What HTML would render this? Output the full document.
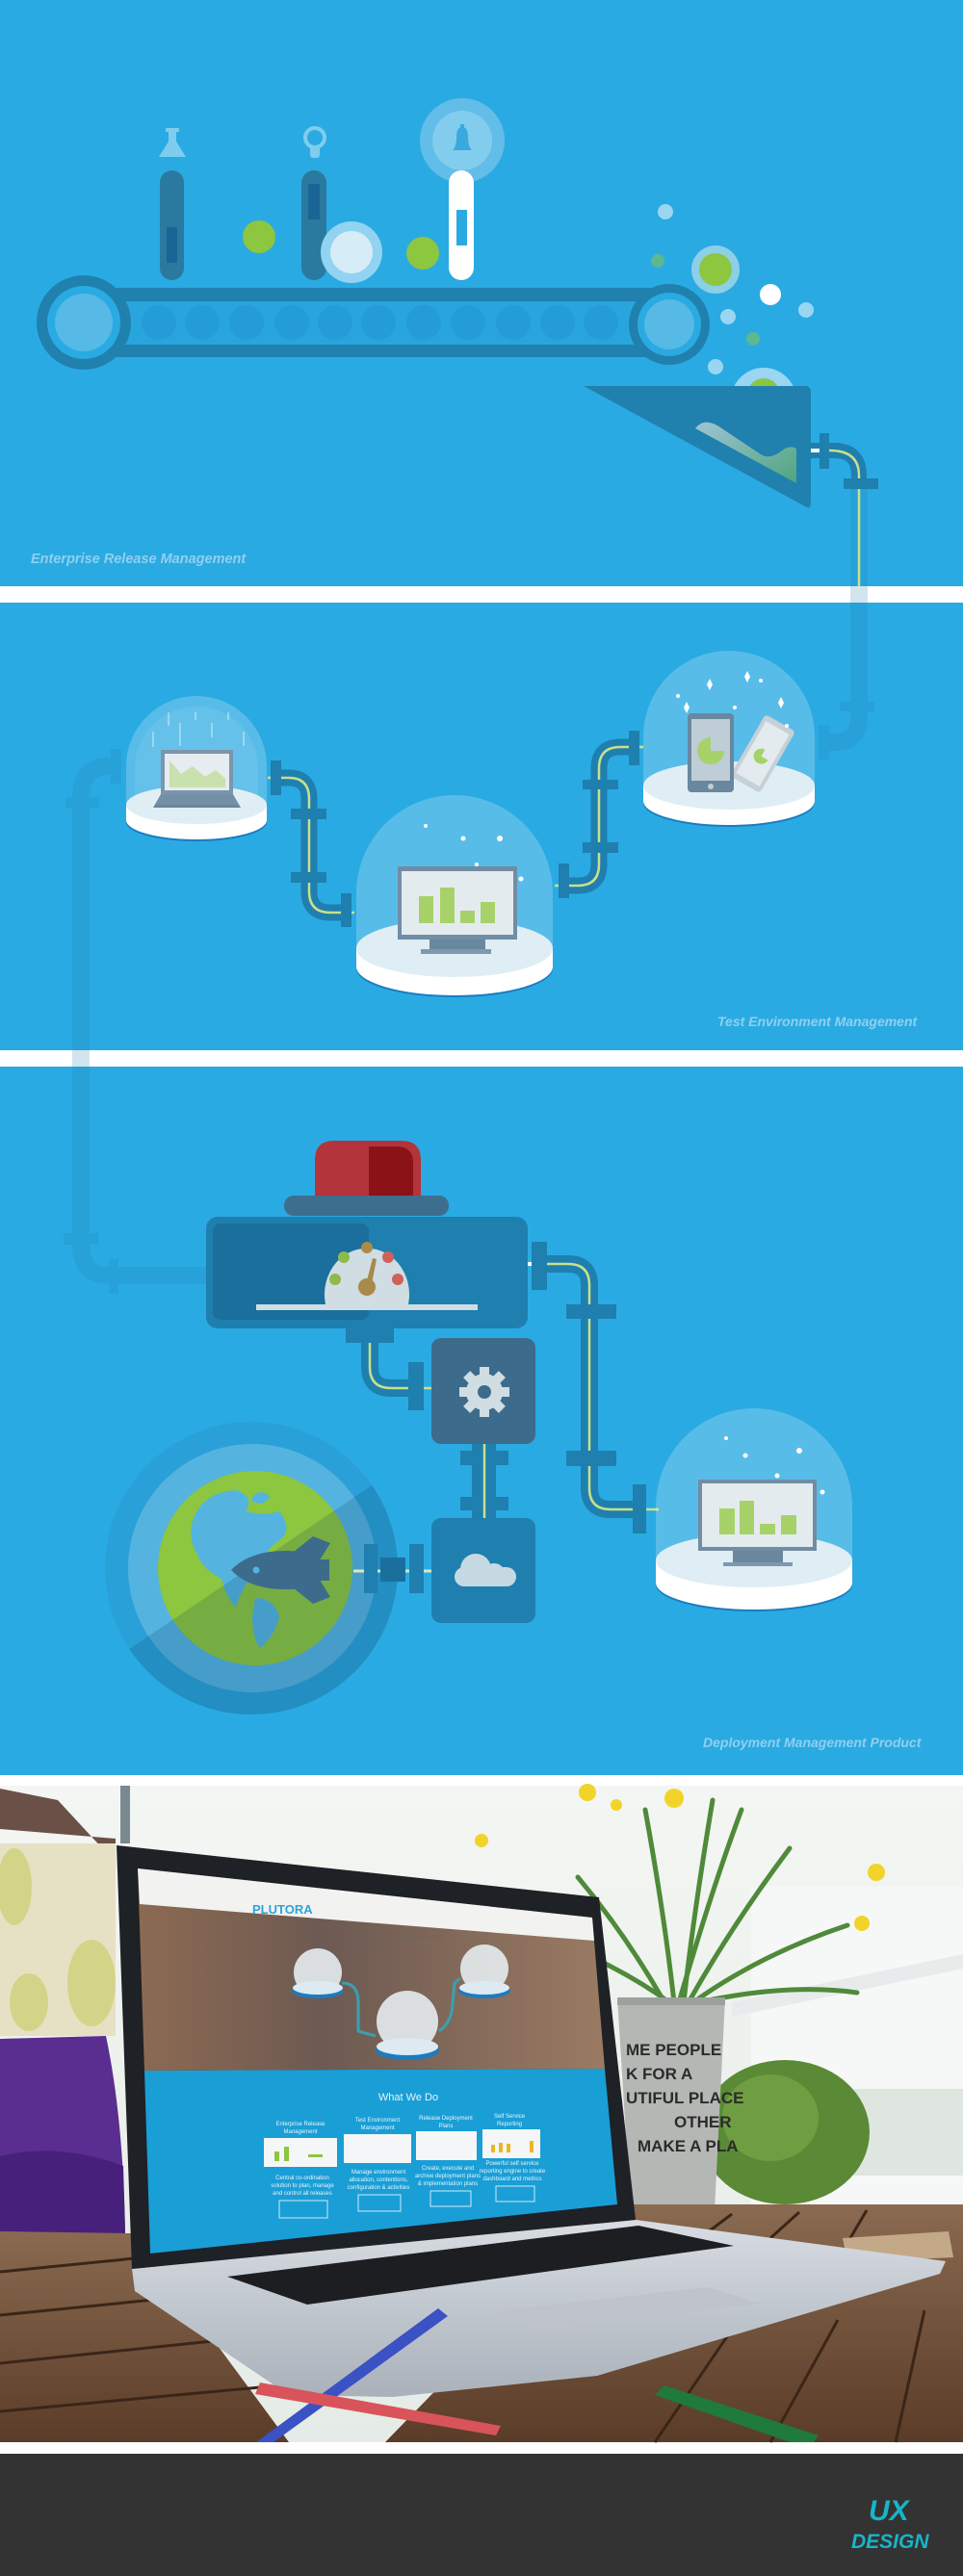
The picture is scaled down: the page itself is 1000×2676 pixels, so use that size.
<!DOCTYPE html>
<html><head><meta charset="utf-8"><style>
html,body{margin:0;padding:0;background:#fff}
svg{display:block}
.lbl{font-family:"Liberation Sans",sans-serif;font-style:italic;font-weight:bold;fill:#8fd0ef}
.sc{font-family:"Liberation Sans",sans-serif;fill:#e8f4fb}
</style></head><body>
<svg width="1000" height="2676" viewBox="0 0 1000 2676" xmlns="http://www.w3.org/2000/svg">
<defs>
<linearGradient id="hg" x1="0" y1="0" x2="1" y2="1"><stop offset="0" stop-color="#9ec4d6"/><stop offset="1" stop-color="#4fa57c"/></linearGradient>
<clipPath id="gc"><circle cx="261" cy="1629" r="152"/></clipPath>
<clipPath id="hc"><rect x="0" y="0" width="1000" height="401"/></clipPath>
<linearGradient id="sky" x1="0" y1="0" x2="0" y2="1"><stop offset="0" stop-color="#f3f6f2"/><stop offset="1" stop-color="#e5ebe6"/></linearGradient>
<linearGradient id="wood" x1="0" y1="0" x2="0" y2="1"><stop offset="0" stop-color="#8a6a50"/><stop offset="1" stop-color="#5a3c28"/></linearGradient>
<linearGradient id="blur" x1="0" y1="0" x2="1" y2="0"><stop offset="0" stop-color="#8c6a52"/><stop offset="0.4" stop-color="#6d5a52"/><stop offset="1" stop-color="#9a7a62"/></linearGradient>
<linearGradient id="silver" x1="0" y1="0" x2="0" y2="1"><stop offset="0" stop-color="#d8dde3"/><stop offset="1" stop-color="#aab1ba"/></linearGradient>
</defs>

<!-- backgrounds -->
<rect x="0" y="0" width="1000" height="2549" fill="#2aaae2"/>
<rect x="0" y="609" width="1000" height="17" fill="#fff"/>
<rect x="0" y="1091" width="1000" height="17" fill="#fff"/>
<rect x="0" y="1844" width="1000" height="11" fill="#fff"/>
<rect x="0" y="2537" width="1000" height="12" fill="#fff"/>
<rect x="0" y="2549" width="1000" height="127" fill="#333333"/>

<!-- ===== Section 1 ===== -->
<!-- icons -->
<g fill="#7fcdee">
<rect x="172" y="133" width="14" height="4" rx="1"/>
<path d="M175 137 h8 v10 l10 16 h-28 l10 -16z"/>
<circle cx="327" cy="143" r="10" fill="none" stroke="#7fcdee" stroke-width="4"/>
<rect x="322" y="152" width="10" height="12" rx="3"/>
</g>
<circle cx="480" cy="146" r="44" fill="#62bde8"/>
<circle cx="480" cy="146" r="31" fill="#82cdee"/>
<path d="M470 156 q4 -4 4 -14 q0 -10 6 -10 q6 0 6 10 q0 10 4 14z" fill="#3aa9de"/>
<rect x="478" y="129" width="4" height="4" fill="#3aa9de"/>
<!-- tubes -->
<rect x="166" y="177" width="25" height="114" rx="12.5" fill="#2a7aa0"/>
<rect x="173" y="236" width="11" height="37" fill="#1a6596"/>
<rect x="313" y="177" width="26" height="114" rx="13" fill="#2a7aa0"/>
<rect x="320" y="191" width="12" height="37" fill="#1a6596"/>
<circle cx="365" cy="262" r="32" fill="#92d3f1"/>
<circle cx="365" cy="262" r="22" fill="#d6edf8"/>
<rect x="466" y="177" width="26" height="114" rx="13" fill="#fff"/>
<rect x="474" y="218" width="11" height="37" fill="#2aaae2"/>
<circle cx="269" cy="246" r="17" fill="#8dc63f"/>
<circle cx="439" cy="263" r="17" fill="#8dc63f"/>
<!-- conveyor -->
<rect x="115" y="299" width="570" height="72" fill="#2080ae"/>
<rect x="125" y="313" width="545" height="45" fill="#29a5dd"/>
<g fill="#249cd5">
<circle cx="165" cy="335" r="18"/><circle cx="210" cy="335" r="18"/><circle cx="256" cy="335" r="18"/><circle cx="303" cy="335" r="18"/><circle cx="348" cy="335" r="18"/><circle cx="393" cy="335" r="18"/><circle cx="440" cy="335" r="18"/><circle cx="486" cy="335" r="18"/><circle cx="533" cy="335" r="18"/><circle cx="579" cy="335" r="18"/><circle cx="624" cy="335" r="18"/>
</g>
<circle cx="87" cy="335" r="49" fill="#2080ae"/>
<circle cx="87" cy="335" r="38" fill="#2aaae2"/>
<circle cx="87" cy="335" r="30" fill="#56b9e6"/>
<circle cx="695" cy="337" r="42" fill="#2080ae"/>
<circle cx="695" cy="337" r="33" fill="#2aaae2"/>
<circle cx="695" cy="337" r="26" fill="#56b9e6"/>
<!-- bubbles -->
<circle cx="691" cy="220" r="8" fill="#9ad6f2"/>
<circle cx="683" cy="271" r="7" fill="#5cb890"/>
<circle cx="743" cy="280" r="25" fill="#8ccfe6"/>
<circle cx="743" cy="280" r="17" fill="#8dc63f"/>
<circle cx="800" cy="306" r="11" fill="#fff"/>
<circle cx="837" cy="322" r="8" fill="#9ad6f2"/>
<circle cx="756" cy="329" r="8" fill="#9ad6f2"/>
<circle cx="782" cy="352" r="7" fill="#5cb890"/>
<circle cx="743" cy="381" r="8" fill="#9ad6f2"/>
<g clip-path="url(#hc)"><circle cx="793" cy="416" r="34" fill="#9ad6f2"/><circle cx="793" cy="410" r="17" fill="#8dc63f"/></g>
<!-- hopper -->
<path d="M606 401 L836 401 Q842 401 842 407 L842 522 Q842 530 836 526 Z" fill="#2080ae"/>
<path d="M722 445 Q730 434 745 442 L790 472 Q800 478 812 468 Q820 462 827 466 L827 502 Z" fill="url(#hg)"/>
<!-- exit pipe section1 -->
<path d="M892 508 L892 729" stroke="#1f7fae" stroke-opacity="0.2" stroke-width="18" fill="none"/>
<path d="M842 468 L866 468 Q892 468 892 494 L892 500" stroke="#1f7fae" stroke-width="16" fill="none"/>
<path d="M842 468 L862 468 Q892 468 892 494 L892 609" stroke="#c8e08a" stroke-width="2.5" fill="none"/>
<rect x="842" y="466" width="10" height="4" fill="#fff"/>
<rect x="851" y="450" width="10" height="37" fill="#1f7fae"/>
<rect x="876" y="497" width="36" height="11" fill="#1f7fae"/>
<text x="32" y="585" class="lbl" font-size="14.5">Enterprise Release Management</text>

<!-- ===== Section 2 ===== -->
<!-- faint pipes -->
<g stroke="#1f7fae" stroke-opacity="0.2" fill="none" stroke-width="18">
<path d="M892 739 L892 745 Q892 771 866 771 L861 771"/>
<path d="M115 796 Q84 796 84 828"/>
<path d="M84 839 L84 1281"/>
<path d="M84 1293 Q84 1325 113 1325"/>
<path d="M123 1325 L214 1325"/>
</g>
<g fill="#1f7fae" fill-opacity="0.2">
<rect x="872" y="729" width="36" height="10"/>
<rect x="850" y="753" width="11" height="36"/>
<rect x="115" y="778" width="11" height="36"/>
<rect x="68" y="828" width="35" height="11"/>
<rect x="66" y="1281" width="36" height="12"/>
<rect x="113" y="1308" width="10" height="36"/>
</g>
<!-- pipe A -->
<path d="M292 808 L300 808 Q321 808 321 830 L321 926 Q321 948 343 948 L354 948" stroke="#1f7fae" stroke-width="17" fill="none"/>
<path d="M278 808 L300 808 Q321 808 321 830 L321 926 Q321 948 343 948 L368 948" stroke="#c8e08a" stroke-width="2.5" fill="none"/>
<g fill="#1f7fae"><rect x="281" y="790" width="11" height="36"/><rect x="302" y="840" width="37" height="11"/><rect x="302" y="906" width="37" height="11"/><rect x="354" y="928" width="11" height="35"/></g>
<!-- pipe B -->
<path d="M591 920 L600 920 Q622 920 622 898 L622 798 Q622 776 644 776 L653 776" stroke="#1f7fae" stroke-width="17" fill="none"/>
<path d="M576 920 L600 920 Q622 920 622 898 L622 798 Q622 776 644 776 L668 776" stroke="#c8e08a" stroke-width="2.5" fill="none"/>
<g fill="#1f7fae"><rect x="580" y="897" width="11" height="36"/><rect x="605" y="810" width="37" height="10"/><rect x="605" y="875" width="37" height="11"/><rect x="653" y="759" width="11" height="36"/></g>

<!-- dome 1 -->
<ellipse cx="204" cy="854" rx="73" ry="20" fill="#1a7cc0"/>
<ellipse cx="204" cy="852" rx="73" ry="20" fill="#fff"/>
<rect x="131" y="836" width="146" height="16" fill="#fff"/>
<ellipse cx="204" cy="836" rx="73" ry="20" fill="#d6e9f3"/>
<rect x="167" y="779" width="75" height="46" fill="#4a6d8c"/>
<rect x="171" y="783" width="67" height="38" fill="#dde6ea"/>
<path d="M176 790 L188 804 L200 796 L213 807 L224 800 L234 809 L234 818 L176 818Z" fill="#b5d68c"/>
<path d="M167 825 L242 825 L250 839 L159 839Z" fill="#3f6685"/>
<path d="M131 840 L131 796 A73 73 0 0 1 277 796 L277 840 A73 20 0 0 1 131 840Z" fill="#fff" fill-opacity="0.22"/>
<path d="M140 836 L140 798 A64 64 0 0 1 268 798 L268 836" fill="#fff" fill-opacity="0.08"/>
<g stroke="#fff" stroke-opacity="0.7" stroke-width="1"><line x1="175" y1="740" x2="175" y2="754"/><line x1="187" y1="751" x2="187" y2="775"/><line x1="203" y1="740" x2="203" y2="748"/><line x1="220" y1="751" x2="220" y2="766"/><line x1="237" y1="740" x2="237" y2="748"/><line x1="253" y1="760" x2="253" y2="775"/><line x1="159" y1="760" x2="159" y2="776"/></g>

<!-- dome 2 -->
<ellipse cx="472" cy="1006" rx="102" ry="30" fill="#1a7cc0"/>
<ellipse cx="472" cy="1004" rx="102" ry="30" fill="#fff"/>
<rect x="370" y="985" width="204" height="19" fill="#fff"/>
<ellipse cx="472" cy="985" rx="102" ry="30" fill="#d6e9f3"/>
<rect x="413" y="900" width="124" height="76" fill="#4a6d8c"/>
<rect x="417" y="905" width="116" height="66" fill="#dde6ea"/>
<g fill="#8dc63f"><rect x="435" y="931" width="15" height="28"/><rect x="457" y="922" width="15" height="37"/><rect x="478" y="946" width="15" height="13"/><rect x="499" y="937" width="15" height="22"/></g>
<rect x="446" y="976" width="58" height="10" fill="#3f6685"/>
<rect x="437" y="986" width="73" height="5" fill="#5a7d99"/>
<path d="M370 990 L370 928 A102 102 0 0 1 574 928 L574 990 A102 30 0 0 1 370 990Z" fill="#fff" fill-opacity="0.22"/>
<g fill="#fff"><circle cx="442" cy="858" r="2"/><circle cx="481" cy="871" r="2.5"/><circle cx="519" cy="871" r="3"/><circle cx="541" cy="913" r="2.5"/><circle cx="495" cy="898" r="2"/></g>

<!-- dome 3 -->
<ellipse cx="757" cy="834" rx="89" ry="25" fill="#1a7cc0"/>
<ellipse cx="757" cy="832" rx="89" ry="25" fill="#fff"/>
<rect x="668" y="816" width="178" height="16" fill="#fff"/>
<ellipse cx="757" cy="816" rx="89" ry="25" fill="#d6e9f3"/>
<g transform="rotate(30 792 783)"><rect x="774" y="746" width="36" height="74" rx="4" fill="#b7c4cc"/><rect x="778" y="752" width="28" height="62" fill="#dde6ea"/><path d="M792 778 a8 8 0 1 0 8 8 l-8 0z" fill="#8dc63f"/></g>
<rect x="714" y="741" width="48" height="82" rx="4" fill="#3f6685"/>
<rect x="718" y="747" width="40" height="64" fill="#aebfcb"/>
<circle cx="738" cy="817" r="3" fill="#aebfcb"/>
<path d="M738 766 a14 14 0 1 0 14 14 l-14 0z" fill="#8dc63f"/>
<path d="M668 820 L668 765 A89 89 0 0 1 846 765 L846 820 A89 25 0 0 1 668 820Z" fill="#fff" fill-opacity="0.22"/>
<g fill="#fff"><path d="M737 705 l3 6 -3 6 -3 -6z"/><path d="M776 697 l3 6 -3 6 -3 -6z"/><path d="M811 724 l3 6 -3 6 -3 -6z"/><path d="M713 729 l3 6 -3 6 -3 -6z"/><circle cx="790" cy="707" r="2"/><circle cx="763" cy="735" r="2"/><circle cx="704" cy="723" r="2"/><circle cx="817" cy="754" r="2"/></g>
<text x="745" y="1066" class="lbl" font-size="14">Test Environment Management</text>

<!-- ===== Section 3 ===== -->
<!-- siren -->
<path d="M327 1242 L327 1205 Q327 1185 347 1185 L417 1185 Q437 1185 437 1205 L437 1242Z" fill="#b3343a"/>
<path d="M383 1242 L383 1191 L412 1191 Q429 1191 429 1208 L429 1242Z" fill="#8b1216"/>
<rect x="295" y="1242" width="171" height="21" rx="10" fill="#3d6e8e"/>
<!-- machine -->
<rect x="214" y="1264" width="334" height="116" rx="12" fill="#1f7fae"/>
<rect x="221" y="1271" width="162" height="100" rx="8" fill="#1a6f9d"/>
<path d="M339 1359 A44 48 0 1 1 423 1359Z" fill="#d0dde3"/>
<g><circle cx="348" cy="1329" r="6" fill="#8dba4a"/><circle cx="357" cy="1306" r="6" fill="#8dba4a"/><circle cx="381" cy="1296" r="6" fill="#b08a4a"/><circle cx="403" cy="1306" r="6" fill="#d0605a"/><circle cx="413" cy="1329" r="6" fill="#d0605a"/></g>
<path d="M379 1338 L387 1307 L391 1308 L385 1339Z" fill="#a88b4a"/>
<circle cx="381" cy="1337" r="9" fill="#a88b4a"/>
<rect x="266" y="1355" width="230" height="6" fill="#d0dde3"/>
<rect x="359" y="1380" width="50" height="15" fill="#1f7fae"/>
<!-- pipe D -->
<path d="M384 1395 L384 1420 Q384 1442 406 1442 L424 1442" stroke="#1f7fae" stroke-width="18" fill="none"/>
<path d="M384 1395 L384 1420 Q384 1442 406 1442 L448 1442" stroke="#c8e08a" stroke-width="2.5" fill="none"/>
<rect x="424" y="1415" width="16" height="50" fill="#1f7fae"/>
<!-- pipe C -->
<path d="M568 1313 L590 1313 Q612 1313 612 1335 L612 1546 Q612 1568 634 1568 L657 1568" stroke="#1f7fae" stroke-width="18" fill="none"/>
<path d="M548 1313 L590 1313 Q612 1313 612 1335 L612 1546 Q612 1568 634 1568 L684 1568" stroke="#c8e08a" stroke-width="2.5" fill="none"/>
<rect x="548" y="1311" width="6" height="4" fill="#fff"/>
<g fill="#1f7fae"><rect x="552" y="1290" width="16" height="50"/><rect x="588" y="1355" width="52" height="15"/><rect x="588" y="1507" width="52" height="16"/><rect x="657" y="1542" width="14" height="51"/></g>
<!-- gear box -->
<rect x="448" y="1390" width="108" height="110" rx="10" fill="#3d6b8c"/>
<g transform="translate(503 1446)" fill="#d0dde3">
<circle r="19"/>
<rect x="-5" y="-26" width="10" height="52"/><rect x="-5" y="-26" width="10" height="52" transform="rotate(45)"/><rect x="-5" y="-26" width="10" height="52" transform="rotate(90)"/><rect x="-5" y="-26" width="10" height="52" transform="rotate(135)"/>
<circle r="7" fill="#3d6b8c"/>
</g>
<!-- gear-cloud connector -->
<rect x="490" y="1500" width="25" height="77" fill="#1f7fae"/>
<rect x="478" y="1507" width="50" height="15" fill="#1f7fae"/>
<rect x="478" y="1555" width="50" height="14" fill="#1f7fae"/>
<line x1="503" y1="1500" x2="503" y2="1577" stroke="#c8e08a" stroke-width="2.5"/>
<!-- cloud box -->
<rect x="448" y="1577" width="108" height="109" rx="10" fill="#1f7fae"/>
<g fill="#c5d9e3"><circle cx="494" cy="1630" r="16"/><circle cx="513" cy="1636" r="12"/><rect x="472" y="1628" width="64" height="20" rx="10"/></g>
<!-- globe -->
<circle cx="261" cy="1629" r="152" fill="#2aa0d8"/>
<circle cx="262" cy="1629" r="129" fill="#55b3e0"/>
<circle cx="265" cy="1629" r="101" fill="#8dc63f"/>
<g fill="#55b3e0">
<path d="M200 1580 Q210 1550 245 1548 Q265 1555 255 1570 Q275 1575 290 1570 Q305 1590 290 1600 Q275 1610 268 1630 Q250 1650 245 1670 Q235 1660 230 1640 Q210 1630 205 1615 Q195 1600 200 1580Z"/>
<path d="M265 1660 Q285 1660 290 1680 Q285 1700 270 1712 Q262 1700 262 1680Z"/>
<path d="M262 1555 Q272 1545 280 1555 Q275 1565 262 1560Z"/>
</g>
<path d="M0 1800 L130 1716 L389 1541 L500 1541 L500 1800Z" fill="#00365a" fill-opacity="0.17" clip-path="url(#gc)"/>
<!-- rocket -->
<g fill="#3d6b8c">
<path d="M240 1631 Q260 1610 300 1611 L330 1613 L330 1650 L300 1651 Q260 1652 240 1631Z"/>
<path d="M305 1612 L325 1596 L343 1603 L330 1624Z"/>
<path d="M305 1650 L325 1666 L343 1659 L330 1638Z"/>
<rect x="326" y="1620" width="16" height="22"/>
</g>
<circle cx="266" cy="1631" r="3.5" fill="#55b3e0"/>
<!-- cloud-globe connector -->
<line x1="367" y1="1632" x2="448" y2="1632" stroke="#d6e9c0" stroke-width="3"/>
<rect x="378" y="1604" width="14" height="51" fill="#1f7fae"/>
<rect x="425" y="1604" width="15" height="51" fill="#1f7fae"/>
<rect x="395" y="1618" width="26" height="25" fill="#1a6f9d"/>
<!-- dome 4 -->
<ellipse cx="783" cy="1646" rx="102" ry="28" fill="#1a7cc0"/>
<ellipse cx="783" cy="1644" rx="102" ry="28" fill="#fff"/>
<rect x="681" y="1621" width="204" height="23" fill="#fff"/>
<ellipse cx="783" cy="1621" rx="102" ry="28" fill="#d6e9f3"/>
<rect x="725" y="1537" width="123" height="74" fill="#4a6d8c"/>
<rect x="729" y="1541" width="115" height="66" fill="#dde6ea"/>
<g fill="#8dc63f"><rect x="747" y="1567" width="16" height="27"/><rect x="768" y="1559" width="15" height="35"/><rect x="789" y="1583" width="16" height="11"/><rect x="811" y="1574" width="16" height="20"/></g>
<rect x="761" y="1611" width="52" height="12" fill="#3f6685"/>
<rect x="751" y="1623" width="72" height="4" fill="#5a7d99"/>
<path d="M681 1625 L681 1565 A102 102 0 0 1 885 1565 L885 1625 A102 28 0 0 1 681 1625Z" fill="#fff" fill-opacity="0.22"/>
<g fill="#fff"><circle cx="754" cy="1494" r="2"/><circle cx="774" cy="1512" r="2.5"/><circle cx="830" cy="1507" r="3"/><circle cx="807" cy="1533" r="2.5"/><circle cx="854" cy="1550" r="2.5"/></g>
<text x="730" y="1815" class="lbl" font-size="14">Deployment Management Product</text>

<!-- ===== Photo ===== -->
<rect x="0" y="1855" width="1000" height="682" fill="url(#sky)"/>
<path d="M0 1858 L60 1870 L120 1935 L120 1910 L0 1900Z" fill="#6b5048"/>
<rect x="0" y="1915" width="120" height="200" fill="#e6e1c4"/>
<g fill="#cfd27a" opacity="0.8"><ellipse cx="15" cy="1960" rx="18" ry="40"/><ellipse cx="95" cy="2060" rx="25" ry="45"/><ellipse cx="30" cy="2080" rx="20" ry="30"/></g>
<rect x="125" y="1855" width="10" height="60" fill="#7a8890"/>
<rect x="780" y="1960" width="220" height="330" fill="#f6f7f7"/>
<path d="M760 2080 L1000 2030 L1000 2045 L760 2095Z" fill="#e8ebec"/>
<rect x="860" y="2170" width="140" height="90" fill="#dfe6df"/>
<ellipse cx="815" cy="2215" rx="88" ry="75" fill="#5a8a35"/>
<ellipse cx="800" cy="2200" rx="50" ry="45" fill="#6f9e42"/>
<!-- plant -->
<g stroke="#4f8a3a" stroke-width="5" fill="none" stroke-linecap="round">
<path d="M690 2080 Q650 2010 600 1950"/><path d="M700 2080 Q690 1990 670 1880"/><path d="M710 2080 Q720 1990 740 1870"/><path d="M715 2080 Q760 2000 820 1920"/><path d="M720 2080 Q790 2030 880 2000"/><path d="M705 2080 Q740 1960 770 1880"/><path d="M725 2080 Q820 2060 890 2070"/><path d="M695 2080 Q640 2040 560 2010"/>
</g>
<g fill="#f2d32a"><circle cx="610" cy="1862" r="9"/><circle cx="700" cy="1868" r="10"/><circle cx="910" cy="1945" r="9"/><circle cx="895" cy="1998" r="8"/><circle cx="500" cy="1912" r="7"/><circle cx="640" cy="1875" r="6"/></g>
<path d="M641 2075 L753 2075 L742 2298 L655 2298Z" fill="#b4b7b4"/>
<rect x="641" y="2075" width="112" height="8" fill="#9da19e"/>
<g font-family="Liberation Sans,sans-serif" font-weight="bold" font-size="17" fill="#2b2b2b">
<text x="650" y="2135">ME PEOPLE</text><text x="650" y="2160">K FOR A</text><text x="650" y="2185">UTIFUL PLACE</text><text x="700" y="2210">OTHER</text><text x="662" y="2235">MAKE A PLA</text>
</g>
<!-- blanket -->
<path d="M0 2118 L110 2115 Q128 2200 130 2320 L0 2330Z" fill="#5a2d91"/>
<path d="M0 2240 Q60 2225 128 2250 L130 2320 L0 2330Z" fill="#46207a"/>
<!-- table -->
<path d="M0 2318 L140 2320 L300 2537 L0 2537Z" fill="url(#wood)"/>
<path d="M640 2290 L1000 2290 L1000 2537 L400 2537Z" fill="url(#wood)"/>
<g stroke="#3a2618" stroke-width="3"><line x1="0" y1="2360" x2="150" y2="2345"/><line x1="0" y1="2405" x2="200" y2="2385"/><line x1="0" y1="2455" x2="240" y2="2430"/><line x1="0" y1="2505" x2="270" y2="2480"/><line x1="760" y1="2300" x2="720" y2="2330"/><line x1="830" y1="2298" x2="800" y2="2325"/><line x1="900" y1="2296" x2="880" y2="2330"/><line x1="960" y1="2400" x2="930" y2="2537"/><line x1="870" y1="2410" x2="800" y2="2537"/><line x1="760" y1="2420" x2="680" y2="2537"/></g>
<path d="M875 2325 L985 2318 L990 2345 L880 2350Z" fill="#c4a988"/>
<!-- laptop base -->
<path d="M137 2357 L660 2306 L982 2349 L976 2362 L620 2468 L408 2490 L300 2488 L140 2380Z" fill="url(#silver)"/>
<path d="M236 2365 L663 2312 L762 2333 L319 2394Z" fill="#1c1e22"/>
<path d="M512 2401 L735 2376 L790 2393 L560 2421Z" fill="#bfc4cb"/>
<!-- bezel & screen -->
<path d="M121 1917 L622 1971 L660 2306 L137 2357Z" fill="#1e2125"/>
<path d="M143 1941 L615 1992 L628 2149 L150 2151Z" fill="url(#blur)"/>
<path d="M143 1941 L615 1992 L617 2016 L145 1978Z" fill="#f2f2f0"/>
<path d="M150 2151 L628 2149 L641 2290 L156 2341Z" fill="#1a9ed6"/>
<text x="262" y="1988" font-family="Liberation Sans,sans-serif" font-weight="bold" font-size="13" fill="#2aa5dc">PLUTORA</text>
<g font-family="Liberation Sans,sans-serif" font-size="4.5" fill="#666"><text x="356" y="2013">Home  Products  Solutions  Services  Resources  About</text></g>
<!-- mini domes -->
<g fill="#e6ecef" opacity="0.9"><ellipse cx="330" cy="2049" rx="25" ry="25"/><ellipse cx="423" cy="2100" rx="32" ry="32"/><ellipse cx="503" cy="2045" rx="25" ry="25"/></g>
<g fill="#1b7cc0"><ellipse cx="330" cy="2068" rx="27" ry="8"/><ellipse cx="423" cy="2130" rx="33" ry="10"/><ellipse cx="503" cy="2068" rx="27" ry="8"/></g>
<g fill="#ddeaf1"><ellipse cx="330" cy="2065" rx="26" ry="7"/><ellipse cx="423" cy="2126" rx="32" ry="9"/><ellipse cx="503" cy="2065" rx="26" ry="7"/></g>
<g stroke="#3aa0b0" stroke-width="3" fill="none"><path d="M355 2060 Q372 2060 372 2080 L372 2110 L390 2115"/><path d="M456 2110 Q470 2100 470 2080 L472 2060 L478 2055"/></g>
<text x="424" y="2182" text-anchor="middle" class="sc" font-size="11">What We Do</text>
<g class="sc" font-size="6" text-anchor="middle">
<text x="312" y="2208">Enterprise Release</text><text x="312" y="2216">Management</text>
<text x="392" y="2204">Test Environment</text><text x="392" y="2212">Management</text>
<text x="463" y="2202">Release Deployment</text><text x="463" y="2210">Plans</text>
<text x="529" y="2200">Self Service</text><text x="529" y="2208">Reporting</text>
<text x="314" y="2264">Central co-ordination</text><text x="314" y="2272">solution to plan, manage</text><text x="314" y="2280">and control all releases</text>
<text x="393" y="2258">Manage environment</text><text x="393" y="2266">allocation, contentions,</text><text x="393" y="2274">configuration &amp; activities</text>
<text x="465" y="2254">Create, execute and</text><text x="465" y="2262">archive deployment plans</text><text x="465" y="2270">&amp; implementation plans</text>
<text x="532" y="2249">Powerful self service</text><text x="532" y="2257">reporting engine to create</text><text x="532" y="2265">dashboard and metrics</text>
</g>
<g fill="#f4f6f8"><rect x="274" y="2221" width="76" height="30"/><rect x="357" y="2217" width="70" height="30"/><rect x="432" y="2214" width="63" height="30"/><rect x="501" y="2212" width="60" height="30"/></g>
<g fill="#8dc63f"><rect x="285" y="2235" width="5" height="10"/><rect x="295" y="2230" width="5" height="15"/><rect x="320" y="2238" width="15" height="3"/></g>
<g fill="#e8b820"><rect x="510" y="2228" width="4" height="8"/><rect x="518" y="2226" width="4" height="10"/><rect x="526" y="2227" width="4" height="9"/><rect x="550" y="2224" width="4" height="12"/></g>
<g fill="none" stroke="#d0e8f5" stroke-width="1"><rect x="290" y="2286" width="50" height="18"/><rect x="372" y="2280" width="44" height="17"/><rect x="447" y="2276" width="42" height="16"/><rect x="515" y="2271" width="40" height="16"/></g>
<!-- pencils -->
<path d="M455 2398 L465 2406 L284 2537 L266 2537Z" fill="#3b52c4"/>
<path d="M270 2475 L520 2520 L515 2530 L265 2487Z" fill="#d9545a"/>
<path d="M680 2488 L690 2478 L850 2530 L845 2537 L820 2537Z" fill="#1f7a3c"/>

<!-- footer logo -->
<g font-family="Liberation Sans,sans-serif" font-style="italic" font-weight="bold" fill="#17b5c9">
<text x="902" y="2618" font-size="30">UX</text>
<text x="884" y="2647" font-size="21">DESIGN</text>
</g>
</svg>
</body></html>
